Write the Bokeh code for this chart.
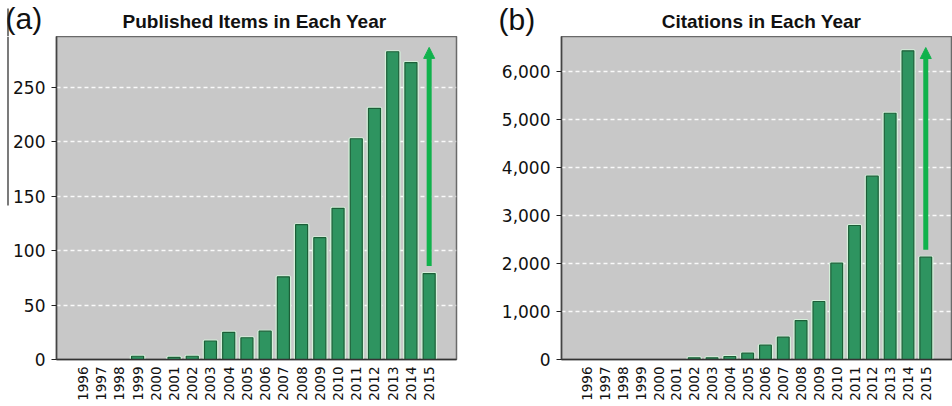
import math
from bokeh.plotting import figure
from bokeh.layouts import row, column
from bokeh.models import (Range1d, FixedTicker, NumeralTickFormatter, Arrow,
                          NormalHead, ColumnDataSource, CDSView, BooleanFilter)
from bokeh.core.properties import value
from bokeh.embed import file_html
from bokeh.resources import INLINE

years = ["1996", "1997", "1998", "1999", "2000", "2001", "2002", "2003", "2004", "2005",
         "2006", "2007", "2008", "2009", "2010", "2011", "2012", "2013", "2014", "2015"]
published = [0, 0, 0, 3, 0, 2, 3, 17, 25, 20, 26, 76, 124, 112, 139, 203, 231, 283, 273, 79]
citations = [0, 0, 0, 0, 0, 0, 35, 35, 63, 131, 298, 465, 812, 1208, 2006, 2792, 3819, 5131, 6431, 2131]
pub_ticks = [0, 50, 100, 150, 200, 250]
cit_ticks = [0, 1000, 2000, 3000, 4000, 5000, 6000]
pub_arrow = (86, 287)
cit_arrow = (2285, 6500)
titles = ["Published Items in Each Year", "Citations in Each Year"]
panels = ["(a)", "(b)"]

BG = "#c8c8c8"
BAR = "#2e9460"
BAR_EDGE = "#1c5f38"
HALO = "#d4f0da"
ARROW = "#10b24c"
TXT = "#111111"

W, HEAD_H, MAIN_H = 952, 36, 370
FRAME_TOP, FRAME_BOTTOM = 36, 359


def blank(fw, fh, y0, y1):
    f = figure(frame_width=fw, frame_height=fh, output_backend="svg", toolbar_location=None,
               x_range=Range1d(0, fw), y_range=Range1d(y1, y0),
               min_border=0, x_axis_location=None, y_axis_location=None,
               background_fill_color="white", border_fill_color="white")
    f.title.visible = False
    f.outline_line_color = None
    f.grid.visible = False
    return f


# header with panel letters and titles (page coordinates, y downwards)
head = blank(W, HEAD_H, 0, HEAD_H)
head.text(x=[5, 498], y=[17.6, 18.6], text=panels, text_font=value("Liberation Sans"),
          text_font_size="30px", text_baseline="alphabetic", text_align="left",
          text_color=TXT)
head.text(x=[254, 761], y=[21.2, 21.2], text=titles, text_font=value("Liberation Sans"),
          text_font_size="19px", text_font_style="bold", text_baseline="alphabetic",
          text_align="center", text_color=TXT)
head.segment(x0=[7.5], y0=[8], x1=[7.5], y1=[HEAD_H], line_color="#222222", line_width=1.2)

# thin strip at the left edge (scan border line of the source image);
# its frame is aligned with the chart frames (page y 36..359)
strip = blank(9, FRAME_BOTTOM - FRAME_TOP, FRAME_TOP, FRAME_BOTTOM)
strip.min_border_bottom = MAIN_H - (FRAME_BOTTOM - FRAME_TOP)
strip.segment(x0=[7.5], y0=[FRAME_TOP], x1=[7.5], y1=[205], line_color="#222222",
              line_width=1.2)


def make(values, yticks, ymax, arrow, fw, bl, br, fmt=None):
    idx = list(range(len(years)))
    src = ColumnDataSource(dict(x=idx, top=values))
    view = CDSView(filter=BooleanFilter([v > 0 for v in values]))
    p = figure(frame_width=fw, frame_height=FRAME_BOTTOM - FRAME_TOP, output_backend="svg",
               toolbar_location=None,
               x_range=Range1d(-1.45, 20.5), y_range=Range1d(0, ymax),
               min_border_left=bl, min_border_right=br, min_border_top=0,
               min_border_bottom=MAIN_H - (FRAME_BOTTOM - FRAME_TOP),
               background_fill_color=BG, border_fill_color="white")
    p.title.visible = False
    p.outline_line_color = "#6a6a6a"
    p.outline_line_width = 1.5
    p.xgrid.visible = False
    p.ygrid.grid_line_color = "white"
    p.ygrid.grid_line_dash = "4 3"
    p.ygrid.grid_line_width = 1.5
    p.ygrid.grid_line_alpha = 0.9
    p.yaxis.ticker = FixedTicker(ticks=yticks)
    if fmt:
        p.yaxis.formatter = NumeralTickFormatter(format=fmt)
    p.yaxis.major_label_text_font = "DejaVu Sans"
    p.yaxis.major_label_text_font_size = "17px"
    p.yaxis.major_label_text_color = TXT
    p.yaxis.major_label_standoff = 6
    p.yaxis.axis_line_color = "#444444"
    p.yaxis.axis_line_width = 1.5
    p.yaxis.major_tick_line_color = "#222222"
    p.yaxis.major_tick_out = 5
    p.yaxis.major_tick_in = 0
    p.yaxis.minor_tick_line_color = None
    p.xaxis.ticker = FixedTicker(ticks=idx)
    p.xaxis.major_label_overrides = {i: y for i, y in enumerate(years)}
    p.xaxis.major_label_orientation = math.pi / 2
    p.xaxis.major_label_text_font = "DejaVu Sans"
    p.xaxis.major_label_text_font_size = "13.5px"
    p.xaxis.major_label_text_color = TXT
    p.xaxis.major_label_standoff = 7
    p.xaxis.major_tick_out = 0
    p.xaxis.major_tick_in = 0
    p.xaxis.major_tick_line_color = None
    p.xaxis.minor_tick_line_color = None
    p.xaxis.axis_line_color = "#333333"
    p.xaxis.axis_line_width = 1.5
    p.vbar(x="x", top="top", width=0.7, source=src, view=view, fill_color=HALO,
           line_color=HALO, line_width=3)
    p.vbar(x="x", top="top", width=0.66, source=src, view=view, fill_color=BAR,
           line_color=BAR_EDGE, line_width=1.2)
    p.add_layout(Arrow(x_start=len(years) - 1, y_start=arrow[0], x_end=len(years) - 1,
                       y_end=arrow[1], line_color=ARROW, line_width=5,
                       end=NormalHead(size=11, fill_color=ARROW, line_color=ARROW)))
    return p


p1 = make(published, pub_ticks, 297, pub_arrow, 400, 47, 20)
p2 = make(citations, cit_ticks, 6730, cit_arrow, 391, 85, 0, fmt="0,0")

p = column(head, row(strip, p1, p2))
open("out.html", "w").write(file_html(p, INLINE))
